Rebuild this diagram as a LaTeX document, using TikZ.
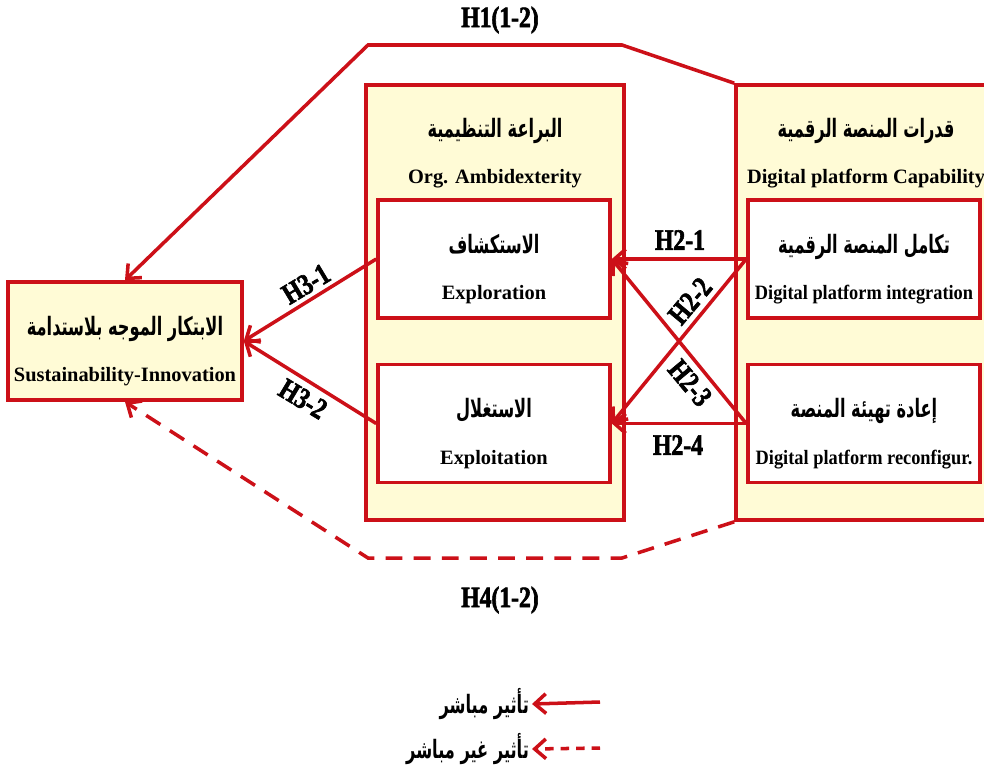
\documentclass[tikz,border=0pt]{standalone}
\usepackage{fontspec}
\setmainfont{Liberation Serif}
\newfontfamily\arabicfont[Script=Arabic, FakeStretch=0.64]{DejaVu Sans}
\newfontfamily\hypfont[FakeStretch=0.8, BoldFeatures={FakeBold=2}]{Liberation Serif}
\newfontfamily\narrowfont[FakeStretch=0.9]{Liberation Serif}
\TeXXeTstate=1
\usetikzlibrary{arrows.meta, positioning}
\definecolor{mainred}{RGB}{204,16,24}
\definecolor{paleyellow}{RGB}{255,251,214}
\newcommand{\engfont}{\fontsize{14.5}{17}\selectfont\bfseries}
\newcommand{\artext}[1]{{\arabicfont\fontsize{18}{20}\selectfont\beginR #1\endR}}
\newcommand{\artop}[1]{\rule{0pt}{28pt}\artext{#1}}
\tikzstyle{outerbox} = [draw=mainred, line width=2.5pt, fill=paleyellow, inner sep=0pt]
\tikzstyle{innerbox} = [draw=mainred, line width=2.5pt, fill=white, minimum width=5.8cm, minimum height=2.95cm, align=center, font=\engfont]
\tikzstyle{hyp} = [font=\hypfont\fontsize{21}{24}\selectfont\bfseries, inner sep=1pt]
\tikzstyle{legendtext} = [font=\bfseries, inner sep=2pt, anchor=east]
\tikzstyle{arrow} = [line width=2.5pt, ->, >={Straight Barb[length=8pt,width=14pt]}, draw=mainred]
\tikzstyle{indirect} = [dash pattern=on 12pt off 8pt]

\begin{document}
\begin{tikzpicture}[x=0.025cm, y=-0.025cm]
  \useasboundingbox (0,0) rectangle (984,769);
  % Draw nodes
  \node (ambi) [outerbox, minimum width=6.45cm, minimum height=10.875cm] at (495,302.5) {};
  \node (capa) [outerbox, minimum width=6.85cm, minimum height=10.875cm] at (873,302.5) {};
  \node (ambititle) [align=center, font=\engfont] at (495,153) {\artext{البراعة التنظيمية}\\[16pt]Org. Ambidexterity};
  \node (capatitle) [align=center, font=\engfont] at (866,153) {\artext{قدرات المنصة الرقمية}\\[16pt]Digital platform Capability};
  \node (explo) [innerbox] at (494,259) {\artop{الاستكشاف}\\[16pt]Exploration};
  \node (exploit) [innerbox] at (494,423.5) {\artop{الاستغلال}\\[16pt]Exploitation};
  \node (integ) [innerbox] at (864,259) {\artop{تكامل المنصة الرقمية}\\[16pt]{\narrowfont Digital platform integration}};
  \node (reconf) [innerbox] at (864,423.5) {\artop{إعادة تهيئة المنصة}\\[16pt]{\narrowfont Digital platform reconfigur.}};
  \node (sust) [innerbox, fill=paleyellow, minimum width=5.85cm] at (125,341) {\artop{الابتكار الموجه بلاستدامة}\\[16pt]Sustainability-Innovation};
  % Bends of the long paths
  \coordinate (h1a) at (622,45);
  \coordinate (h1b) at (368,45);
  \coordinate (h4a) at (622,558);
  \coordinate (h4b) at (368,558);
  % Draw arrows
  \draw [arrow] (capa.north west) -- (h1a) -- (h1b) -- (sust.north);
  \draw [arrow, indirect] (capa.south west) -- (h4a) -- (h4b) -- (sust.south);
  \draw [arrow] (integ.west) -- (explo.east);
  \draw [arrow] (integ.west) -- (exploit.east);
  \draw [arrow] (reconf.west) -- (explo.east);
  \draw [arrow] (reconf.west) -- (exploit.east);
  \draw [arrow] (explo.west) -- (sust.east);
  \draw [arrow] (exploit.west) -- (sust.east);
  % Hypothesis labels
  \node (h1) [hyp] at (500,20) {H1(1-2)};
  \node (h4) [hyp] at (500,600) {H4(1-2)};
  \node (h21) [hyp] at (680,240) {H2-1};
  \node (h22) [hyp, rotate=50] at (690,301) {H2-2};
  \node (h23) [hyp, rotate=-50] at (690,383) {H2-3};
  \node (h24) [hyp] at (678,445) {H2-4};
  \node (h31) [hyp, rotate=31] at (306,284) {H3-1};
  \node (h32) [hyp, rotate=-31] at (303,399) {H3-2};
  % Legend
  \coordinate (lg1) at (600,702);
  \coordinate (lg2) at (600,748);
  \node (direct) [legendtext] at (532,704) {\artext{تأثير مباشر}};
  \node (indirectlbl) [legendtext] at (532,749) {\artext{تأثير غير مباشر}};
  \draw [arrow] (lg1) -- (direct.east);
  \draw [arrow, dash pattern=on 6pt off 5pt] (lg2) -- (indirectlbl.east);
\end{tikzpicture}
\end{document}
